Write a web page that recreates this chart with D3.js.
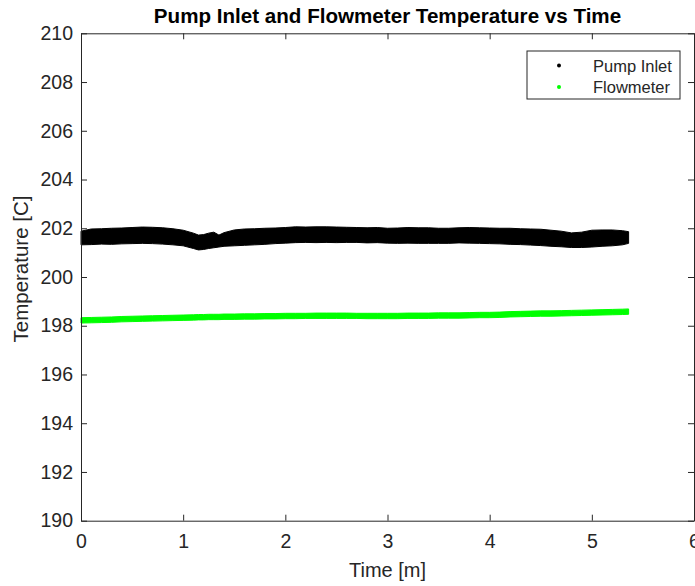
<!DOCTYPE html>
<html>
<head>
<meta charset="utf-8">
<script src="https://cdn.jsdelivr.net/npm/d3@7"></script>
<style>
  body { margin: 0; background: #fff; }
  text { font-family: "Liberation Sans", Arial, sans-serif; fill: #262626; }
</style>
</head>
<body>
<div id="chart"></div>
<script>
// time samples [min] and envelope of the scattered readings [C]
const time = [0, 0.1, 0.2, 0.3, 0.4, 0.5, 0.6, 0.7, 0.8, 0.9, 1.0, 1.1, 1.15, 1.2, 1.25, 1.3, 1.35,
  1.4, 1.5, 1.6, 1.7, 1.8, 1.9, 2.0, 2.1, 2.2, 2.3, 2.4, 2.5, 2.6, 2.7, 2.8, 2.9, 3.0, 3.1, 3.2,
  3.3, 3.4, 3.5, 3.6, 3.7, 3.8, 3.9, 4.0, 4.1, 4.2, 4.3, 4.4, 4.5, 4.6, 4.7, 4.8, 4.9, 5.0, 5.1,
  5.2, 5.3, 5.36];

const pumpHi = [201.88, 201.97, 201.98, 202.00, 202.01, 202.03, 202.05, 202.04, 202.02, 201.98, 201.92,
  201.80, 201.72, 201.74, 201.80, 201.84, 201.72, 201.82, 201.93, 201.97, 201.98, 202.00, 202.01,
  202.03, 202.06, 202.05, 202.06, 202.06, 202.05, 202.04, 202.03, 202.02, 202.03, 202.00, 202.01,
  202.03, 202.02, 202.02, 202.00, 202.00, 202.02, 202.03, 202.02, 202.01, 202.00, 202.00, 201.98,
  201.97, 201.96, 201.92, 201.88, 201.81, 201.84, 201.92, 201.93, 201.93, 201.90, 201.86];
const pumpLo = [201.32, 201.33, 201.35, 201.34, 201.36, 201.37, 201.38, 201.37, 201.35, 201.32, 201.28,
  201.17, 201.11, 201.13, 201.17, 201.20, 201.23, 201.26, 201.28, 201.30, 201.32, 201.34, 201.37,
  201.39, 201.41, 201.42, 201.41, 201.42, 201.41, 201.42, 201.42, 201.40, 201.41, 201.39, 201.38,
  201.39, 201.38, 201.38, 201.38, 201.38, 201.40, 201.39, 201.38, 201.37, 201.36, 201.34, 201.33,
  201.31, 201.29, 201.26, 201.24, 201.21, 201.21, 201.23, 201.26, 201.28, 201.32, 201.38];

const flowHi = [198.33, 198.34, 198.35, 198.36, 198.38, 198.39, 198.40, 198.41, 198.42, 198.43, 198.44,
  198.45, 198.46, 198.46, 198.47, 198.47, 198.47, 198.48, 198.48, 198.49, 198.49, 198.50, 198.50,
  198.51, 198.51, 198.51, 198.52, 198.52, 198.52, 198.52, 198.51, 198.51, 198.51, 198.51, 198.51,
  198.52, 198.52, 198.52, 198.53, 198.53, 198.53, 198.54, 198.55, 198.55, 198.56, 198.58, 198.59,
  198.60, 198.61, 198.61, 198.62, 198.63, 198.64, 198.65, 198.66, 198.67, 198.68, 198.69];
const flowLo = [198.11, 198.12, 198.13, 198.14, 198.16, 198.17, 198.18, 198.19, 198.20, 198.21, 198.22,
  198.23, 198.24, 198.24, 198.25, 198.25, 198.25, 198.26, 198.26, 198.27, 198.27, 198.28, 198.28,
  198.29, 198.29, 198.30, 198.30, 198.30, 198.30, 198.30, 198.30, 198.29, 198.29, 198.29, 198.29,
  198.30, 198.30, 198.30, 198.31, 198.31, 198.31, 198.32, 198.33, 198.33, 198.34, 198.36, 198.37,
  198.38, 198.39, 198.39, 198.40, 198.41, 198.42, 198.43, 198.44, 198.45, 198.46, 198.47];

const xTicks = [0, 1, 2, 3, 4, 5, 6];
const yTicks = [190, 192, 194, 196, 198, 200, 202, 204, 206, 208, 210];
const seriesNames = ["Pump Inlet", "Flowmeter"];
const seriesColors = ["#000000", "#00ff00"];

const width = 695, height = 586;
const margin = { top: 33.3, right: 1, bottom: 65.3, left: 81 };
const axisColor = "#262626";

const svg = d3.select("#chart").append("svg")
  .attr("width", width)
  .attr("height", height);

// slight softening, the original points are anti-aliased dots
svg.append("defs").append("filter")
  .attr("id", "soft")
  .append("feGaussianBlur")
  .attr("stdDeviation", 0.6);

const x = d3.scaleLinear().domain([0, 6]).range([margin.left, width - margin.right]);
const y = d3.scaleLinear().domain([190, 210]).range([height - margin.bottom, margin.top]);

// bands of scattered points, drawn as filled envelopes
const series = [
  { hi: pumpHi, lo: pumpLo, color: seriesColors[0] },
  { hi: flowHi, lo: flowLo, color: seriesColors[1] }
];
const band = d3.area()
  .x(d => x(d.t))
  .y0(d => y(d.lo))
  .y1(d => y(d.hi));

series.forEach(s => {
  const rows = time.map((t, i) => ({ t: t, hi: s.hi[i], lo: s.lo[i] }));
  svg.append("path")
    .datum(rows)
    .attr("d", band)
    .attr("fill", s.color)
    .attr("stroke", s.color)
    .attr("stroke-width", 1)
    .attr("stroke-linejoin", "round")
    .attr("filter", "url(#soft)");
});

// axes, ticks point inward on all four sides
const fontSize = "19.5px";
const xAxis = svg.append("g")
  .attr("transform", `translate(0,${y(190)})`)
  .call(d3.axisBottom(x).tickValues(xTicks).tickFormat(d3.format("d"))
    .tickSizeInner(-6).tickSizeOuter(0).tickPadding(13));
const yAxis = svg.append("g")
  .attr("transform", `translate(${x(0)},0)`)
  .call(d3.axisLeft(y).tickValues(yTicks).tickFormat(d3.format("d"))
    .tickSizeInner(-6).tickSizeOuter(0).tickPadding(8));
const topAxis = svg.append("g")
  .attr("transform", `translate(0,${y(210)})`)
  .call(d3.axisTop(x).tickValues(xTicks).tickSizeInner(-6).tickSizeOuter(0).tickFormat(""));
const rightAxis = svg.append("g")
  .attr("transform", `translate(${x(6)},0)`)
  .call(d3.axisRight(y).tickValues(yTicks).tickSizeInner(-6).tickSizeOuter(0).tickFormat(""));

[xAxis, yAxis, topAxis, rightAxis].forEach(g => {
  g.selectAll("path, line").attr("stroke", axisColor);
  g.selectAll("text")
    .attr("fill", axisColor)
    .style("font-family", "'Liberation Sans', Arial, sans-serif")
    .style("font-size", fontSize);
});

// title and axis labels
svg.append("text")
  .attr("x", (x(0) + x(6)) / 2)
  .attr("y", 23)
  .attr("text-anchor", "middle")
  .style("font-size", "20.6px")
  .style("font-weight", "bold")
  .style("fill", "#000")
  .text("Pump Inlet and Flowmeter Temperature vs Time");

svg.append("text")
  .attr("x", (x(0) + x(6)) / 2)
  .attr("y", 577)
  .attr("text-anchor", "middle")
  .style("font-size", "20px")
  .text("Time [m]");

svg.append("text")
  .attr("transform", `translate(28,${(y(190) + y(210)) / 2 - 8}) rotate(-90)`)
  .attr("text-anchor", "middle")
  .style("font-size", "20.5px")
  .text("Temperature [C]");

// legend
const legend = svg.append("g").attr("transform", "translate(527,51)");
legend.append("rect")
  .attr("width", 153)
  .attr("height", 48)
  .attr("fill", "#fff")
  .attr("stroke", axisColor);

seriesNames.forEach((name, i) => {
  legend.append("circle")
    .attr("cx", 32)
    .attr("cy", 14.5 + i * 21.5)
    .attr("r", 2)
    .attr("fill", seriesColors[i]);
  legend.append("text")
    .attr("x", 66)
    .attr("y", 20.5 + i * 21.5)
    .style("font-size", "16.5px")
    .text(name);
});
</script>
</body>
</html>
